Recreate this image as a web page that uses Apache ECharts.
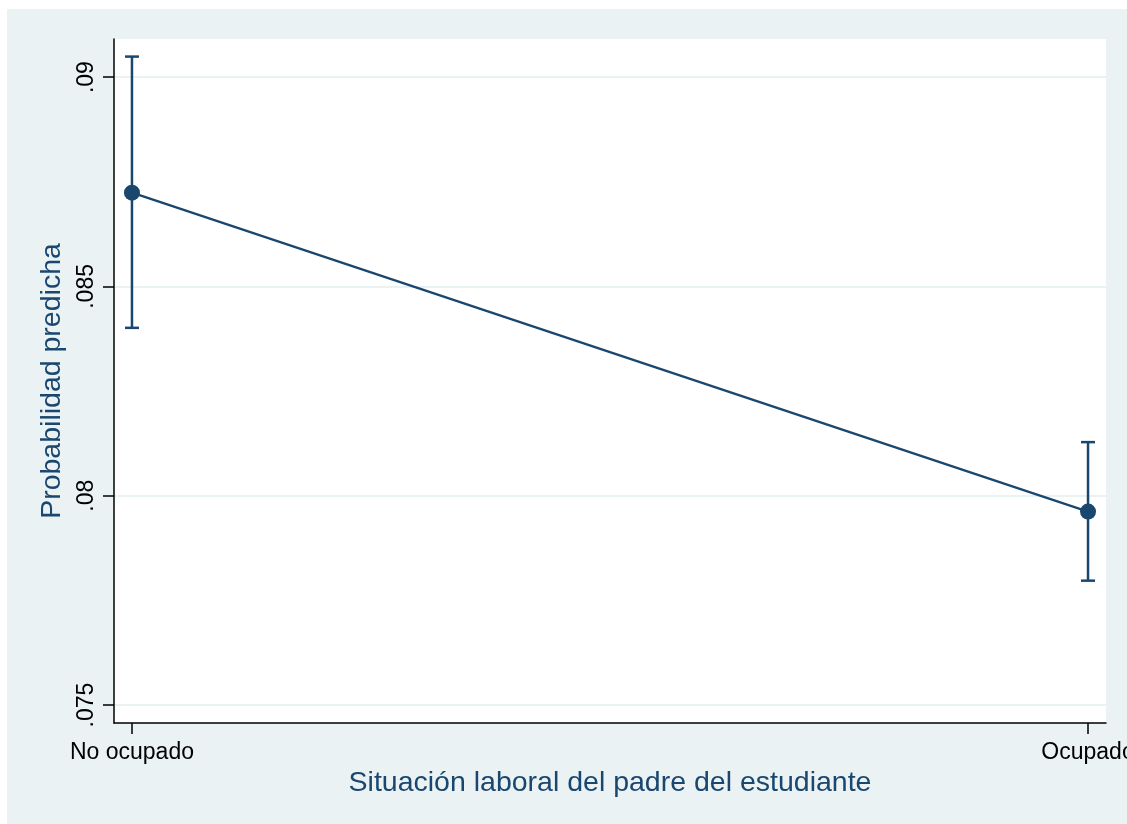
<!DOCTYPE html>
<html>
<head>
<meta charset="utf-8">
<script src="https://cdn.jsdelivr.net/npm/echarts@6/dist/echarts.min.js"></script>
<style>
html,body{margin:0;padding:0;background:#fff;}
#chart{width:1127px;height:824px;}
</style>
</head>
<body>
<div id="chart"></div>
<script>
// Data
const categories = ['No ocupado', 'Ocupado'];
const estimates = [0.08724, 0.07962];
const lowerCI = [0.08401, 0.07797];
const upperCI = [0.09049, 0.08128];
const yTicks = [0.075, 0.08, 0.085, 0.09];
const yTickLabels = ['.075', '.08', '.085', '.09'];
const xTicks = [0, 1];

const navy = '#1a476f';
const bg = '#eaf2f3';
const font = 'Liberation Sans, Arial, Helvetica, sans-serif';

const chart = echarts.init(document.getElementById('chart'), null, {renderer: 'canvas'});

const lineData = estimates.map((v, i) => [i, v]);
const ciData = estimates.map((v, i) => [i, lowerCI[i], upperCI[i]]);

chart.setOption({
  animation: false,
  backgroundColor: '#ffffff',
  graphic: [{
    type: 'rect', z: -10, silent: true,
    shape: {x: 7, y: 9, width: 1120, height: 815},
    style: {fill: bg}
  }],
  grid: {
    left: 114, top: 39, right: 21, bottom: 101,
    containLabel: false,
    outerBoundsMode: 'none',
    show: true, backgroundColor: '#ffffff', borderWidth: 0, z: 0
  },
  xAxis: {
    type: 'value',
    min: -0.0188, max: 1.0188,
    name: 'Situación laboral del padre del estudiante',
    nameLocation: 'middle',
    nameGap: 39,
    nameTextStyle: {color: navy, fontSize: 28.5, fontFamily: font},
    axisLine: {show: true, onZero: false, lineStyle: {color: '#000', width: 1.5}},
    axisTick: {show: true, length: 11, customValues: xTicks, lineStyle: {color: '#000', width: 1.5}},
    axisLabel: {
      customValues: xTicks, margin: 18, color: '#000', fontSize: 23, fontFamily: font,
      formatter: v => categories[Math.round(v)]
    },
    splitLine: {show: false}
  },
  yAxis: {
    type: 'value',
    min: 0.07457, max: 0.09091,
    name: 'Probabilidad predicha',
    nameLocation: 'middle',
    nameGap: 35,
    nameRotate: 90,
    nameTextStyle: {color: navy, fontSize: 28.5, fontFamily: font},
    axisLine: {show: true, onZero: false, lineStyle: {color: '#000', width: 1.5}},
    axisTick: {show: true, length: 11, customValues: yTicks, lineStyle: {color: '#000', width: 1.5}},
    axisLabel: {
      customValues: yTicks, rotate: 90, margin: 16, color: '#000', fontSize: 23, fontFamily: font,
      formatter: v => {
        const i = yTicks.findIndex(t => Math.abs(t - v) < 1e-9);
        return i >= 0 ? yTickLabels[i] : '';
      }
    },
    splitLine: {show: true, lineStyle: {color: bg, width: 2}}
  },
  series: [
    {
      type: 'custom',
      data: ciData,
      z: 3,
      renderItem: function (params, api) {
        const x = api.value(0);
        const lo = api.coord([x, api.value(1)]);
        const hi = api.coord([x, api.value(2)]);
        const cap = 7;
        const style = {stroke: navy, lineWidth: 2.5, fill: null};
        return {
          type: 'group',
          children: [
            {type: 'line', shape: {x1: lo[0], y1: lo[1], x2: hi[0], y2: hi[1]}, style: style},
            {type: 'line', shape: {x1: lo[0] - cap, y1: lo[1], x2: lo[0] + cap, y2: lo[1]}, style: style},
            {type: 'line', shape: {x1: hi[0] - cap, y1: hi[1], x2: hi[0] + cap, y2: hi[1]}, style: style}
          ]
        };
      }
    },
    {
      type: 'line',
      data: lineData,
      z: 4,
      symbol: 'circle',
      symbolSize: 16,
      lineStyle: {color: navy, width: 2.3},
      itemStyle: {color: navy},
      emphasis: {disabled: true}
    }
  ]
});
</script>
</body>
</html>
